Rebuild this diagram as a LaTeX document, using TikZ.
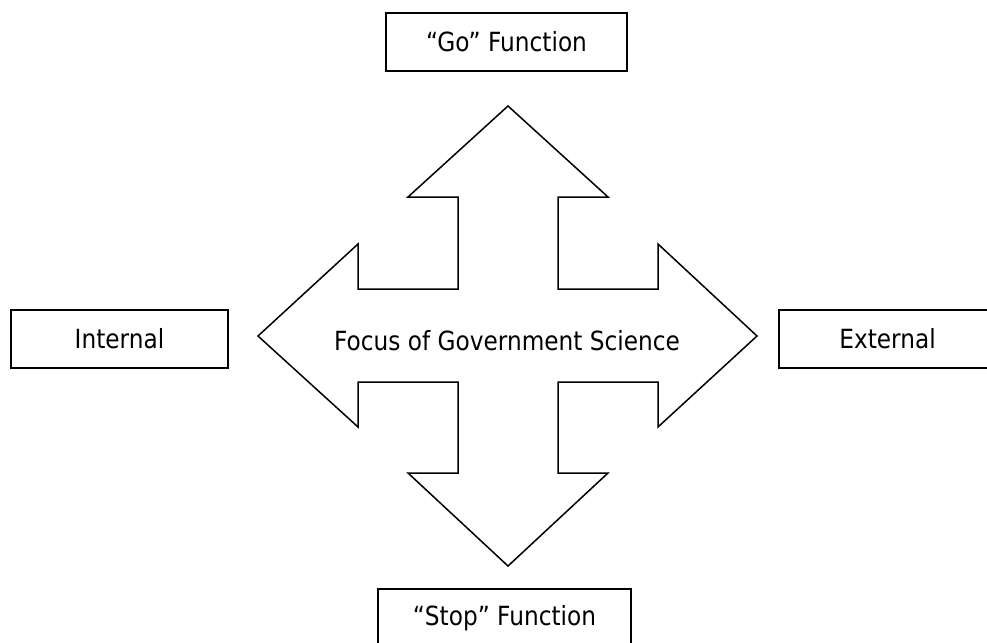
\documentclass[tikz,border=0pt]{standalone}
\usepackage{fontspec}
\setmainfont{DejaVu Sans}[FakeStretch=0.88]
\begin{document}
\begin{tikzpicture}[x=1pt,y=-1pt,
  labelbox/.style={draw=black,line width=1.6pt,minimum height=58pt,inner sep=0pt,
    font=\fontsize{26.4}{30}\selectfont},
  plaintext/.style={inner sep=0pt,font=\fontsize{26.4}{30}\selectfont},
  crossarrow/.style={draw=black,line width=1.5pt,fill=white,line join=miter}]
\useasboundingbox (0,0) rectangle (987,642);
% four-way arrow
\draw[crossarrow] (508,106) -- (608,197) -- (558,197) -- (558,289) -- (658,289) -- (658,244)
  -- (757,336) -- (658,427) -- (658,382) -- (558,382) -- (558,473) -- (608,473)
  -- (508,566) -- (408,473) -- (458,473) -- (458,382) -- (358,382) -- (358,427)
  -- (258,336) -- (358,244) -- (358,289) -- (458,289) -- (458,197) -- (408,197) -- cycle;
\node[plaintext] (focus) at (507,341) {Focus of Government Science};
% boxes
\node[labelbox,minimum width=241pt] (go) at (506.5,42) {“Go” Function};
\node[labelbox,minimum width=253pt] (stop) at (504.5,618) {“Stop” Function};
\node[labelbox,minimum width=217pt] (internal) at (119.5,339) {Internal};
\node[labelbox,minimum width=217pt] (external) at (887.5,339) {External};
\end{tikzpicture}
\end{document}
